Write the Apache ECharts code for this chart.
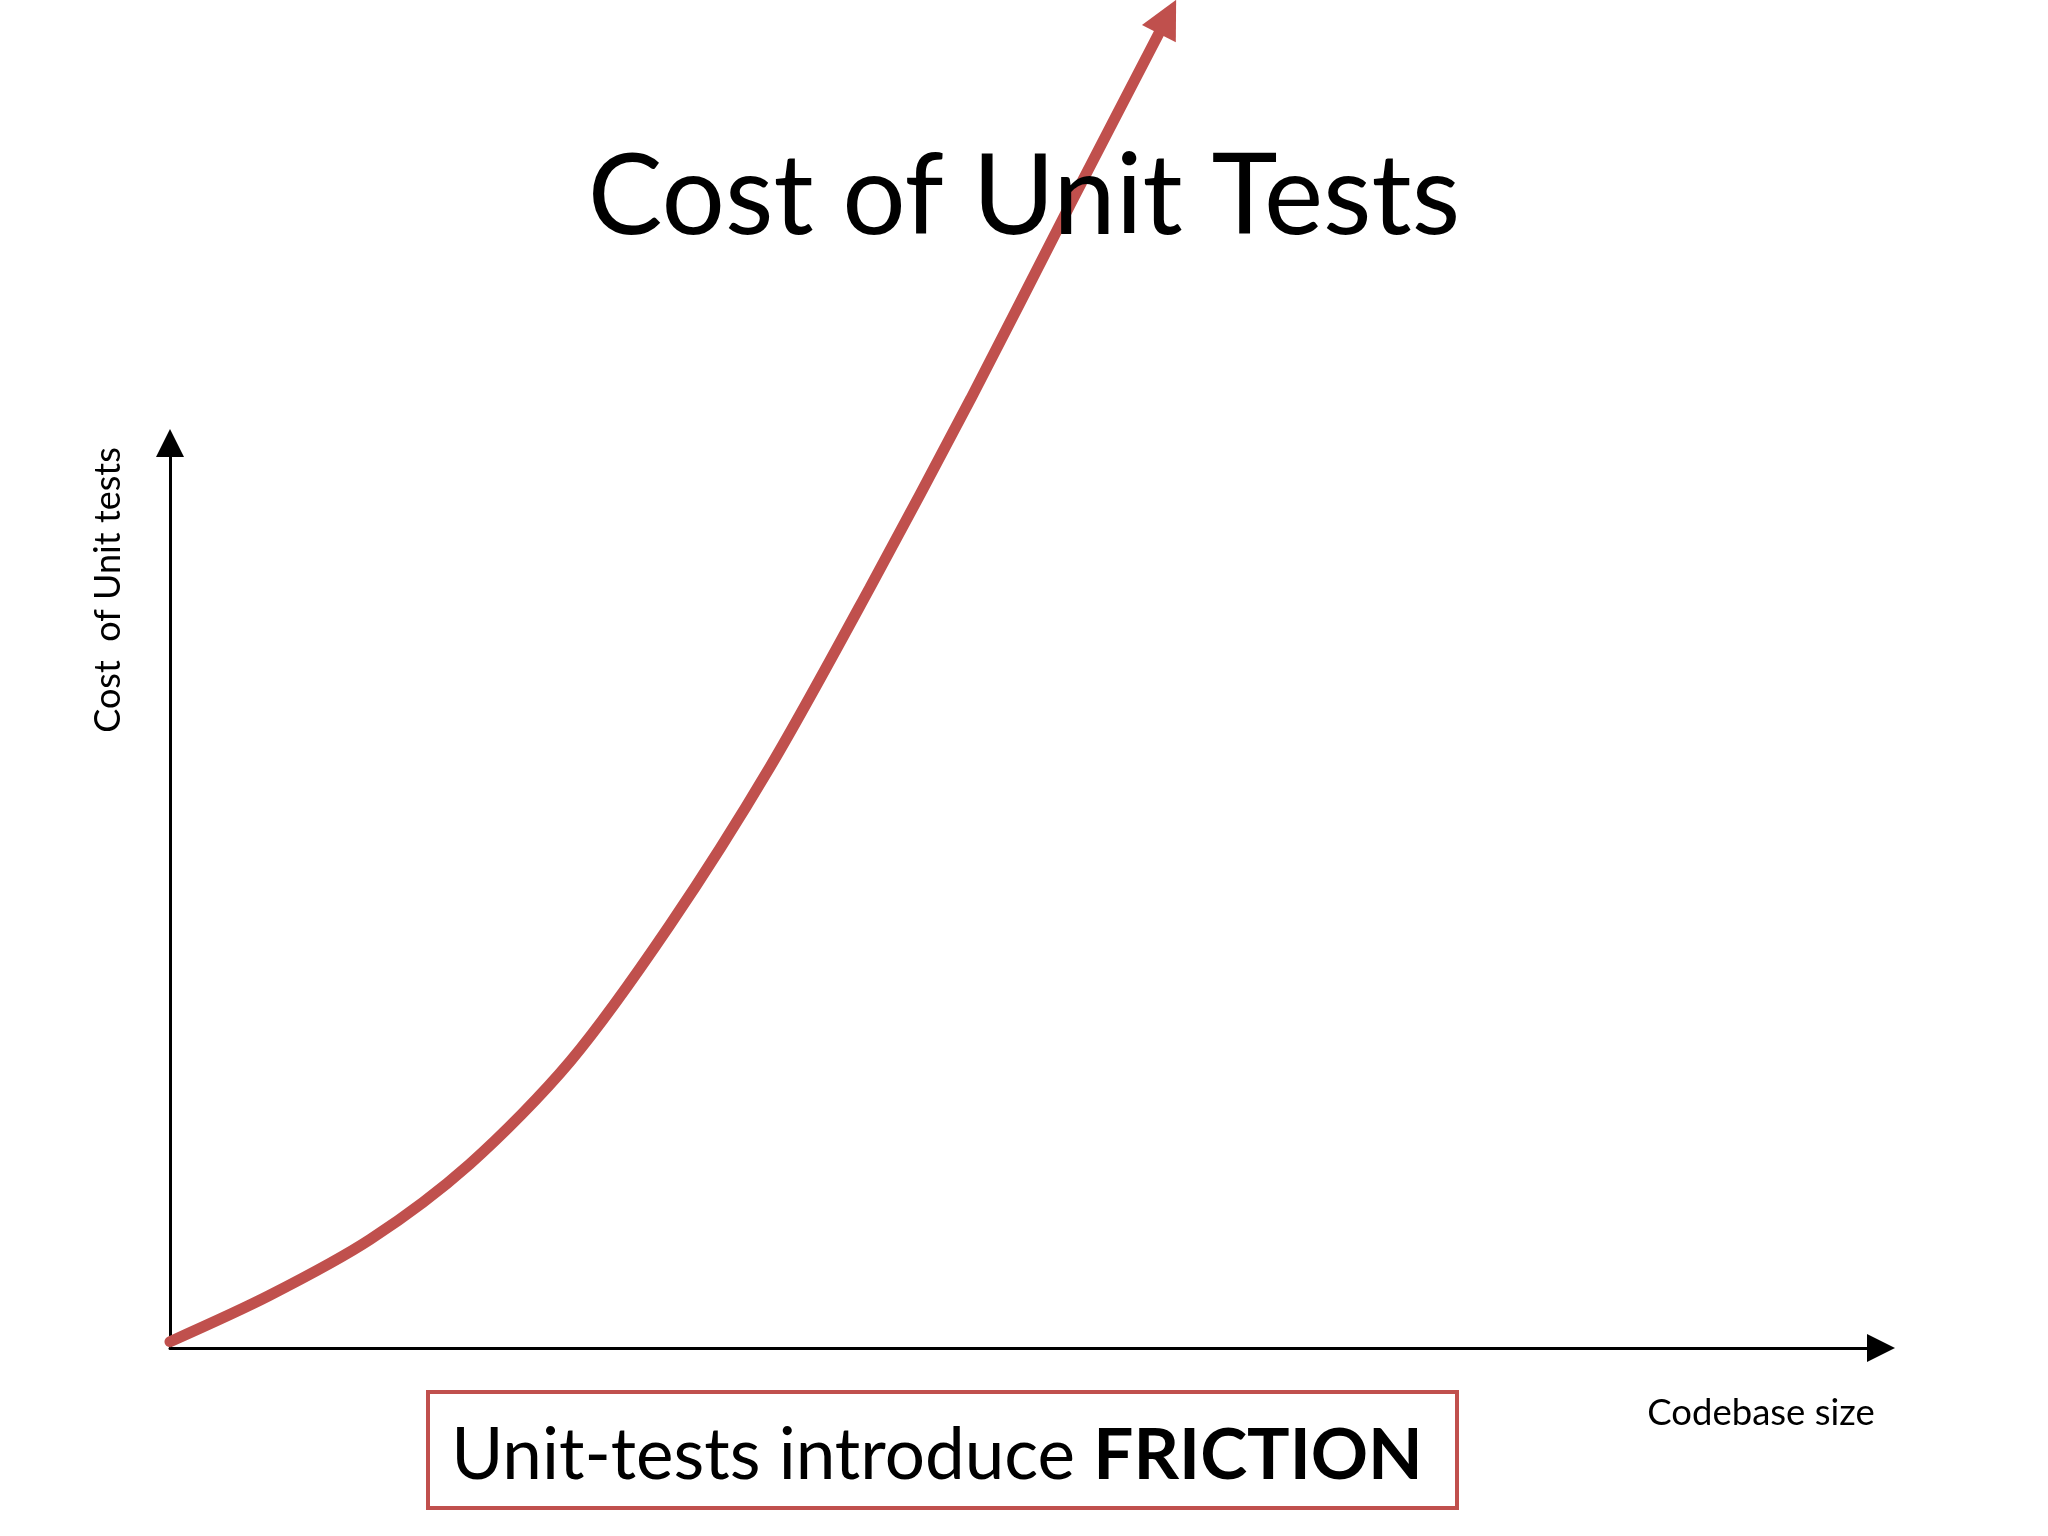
<!DOCTYPE html>
<html><head><meta charset="utf-8">
<script src="https://cdn.jsdelivr.net/npm/echarts@6/dist/echarts.min.js"></script>
<style>html,body{margin:0;padding:0;background:#fff}#c{width:2048px;height:1536px}</style>
</head><body><div id="c"></div>
<script>
// ---- text ----
const titleText = 'Cost of Unit Tests';
const xAxisName = 'Codebase size';
const yAxisName = 'Cost  of Unit tests';
const calloutNormal = 'Unit-tests introduce ';
const calloutBold = 'FRICTION';

// ---- data (axis scale 0..100 on both axes) ----
const codebaseSize = [0, 5.8, 11.7, 17.5, 23.4, 29.2, 35.1, 40.9, 46.8, 52.6, 58.3];
const unitTestCost = [0.7, 5.8, 12.0, 20.3, 31.7, 46.7, 64.3, 84.0, 104.9, 126.3, 147.1];

const RED = '#c0504d';
const FONT = 'Lato';

const seriesData = codebaseSize.map((x, i) => {
  const item = { value: [x, unitTestCost[i]] };
  if (i === codebaseSize.length - 1) {
    item.symbol = 'triangle';
    item.symbolSize = [38, 38];
    item.symbolRotate = -27;
  }
  return item;
});

const chart = echarts.init(document.getElementById('c'), null, { renderer: 'canvas' });
chart.setOption({
  backgroundColor: '#ffffff',
  animation: false,
  title: {
    text: titleText,
    left: 'center',
    top: 137,
    textStyle: { fontFamily: FONT, fontSize: 112, fontWeight: 'normal', color: '#000' }
  },
  grid: { left: 170, right: 167, top: 443, bottom: 188, containLabel: false },
  xAxis: {
    type: 'value', min: 0, max: 100,
    axisLine: { show: true, symbol: ['none', 'triangle'], symbolSize: [28, 28], lineStyle: { color: '#000', width: 3 } },
    axisTick: { show: false }, axisLabel: { show: false }, splitLine: { show: false }
  },
  yAxis: {
    type: 'value', min: 0, max: 100,
    axisLine: { show: true, symbol: ['none', 'triangle'], symbolSize: [28, 28], lineStyle: { color: '#000', width: 3 } },
    axisTick: { show: false }, axisLabel: { show: false }, splitLine: { show: false }
  },
  series: [{
    type: 'line',
    data: seriesData,
    smooth: 0.3,
    clip: false,
    symbol: 'none',
    showSymbol: true,
    lineStyle: { color: RED, width: 11, cap: 'round' },
    itemStyle: { color: RED, borderWidth: 0 },
    z: 5
  }],
  graphic: [
    {
      type: 'text', x: 108, y: 590, rotation: Math.PI / 2,
      style: { text: yAxisName, fontFamily: FONT, fontSize: 36, fill: '#000', align: 'center', verticalAlign: 'middle' }
    },
    {
      type: 'text', x: 1761, y: 1413,
      style: { text: xAxisName, fontFamily: FONT, fontSize: 36.5, fill: '#000', align: 'center', verticalAlign: 'middle' }
    },
    {
      type: 'rect',
      shape: { x: 428, y: 1392, width: 1029, height: 116 },
      style: { fill: '#fff', stroke: RED, lineWidth: 4 }
    },
    {
      type: 'text', x: 937, y: 1456,
      style: {
        text: '{n|' + calloutNormal + '}{b|' + calloutBold + '}',
        align: 'center', verticalAlign: 'middle',
        rich: {
          n: { fontFamily: FONT, fontSize: 71, fontWeight: 'normal', fill: '#000' },
          b: { fontFamily: FONT, fontSize: 71, fontWeight: 'bold', fill: '#000' }
        }
      }
    }
  ]
});
</script>
</body></html>
